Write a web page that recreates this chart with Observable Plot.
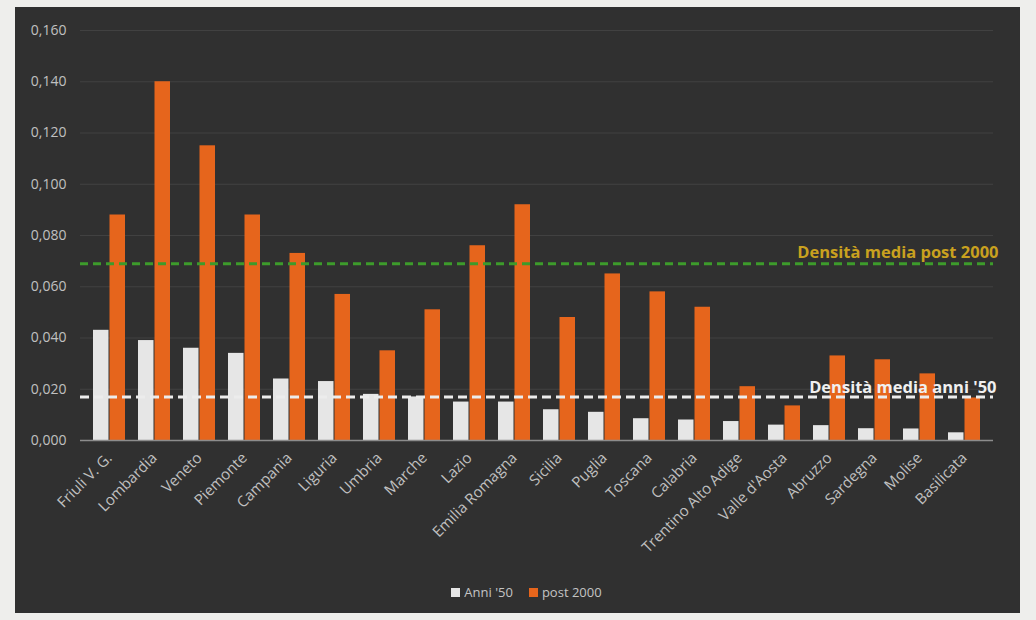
<!DOCTYPE html>
<html>
<head>
<meta charset="utf-8">
<script src="https://cdn.jsdelivr.net/npm/d3@7"></script>
<script src="https://cdn.jsdelivr.net/npm/@observablehq/plot@0.6"></script>
<style>
  html, body { margin: 0; padding: 0; background: #eeeeec; }
  #panel {
    position: absolute; left: 15px; top: 7px; width: 1005px; height: 606px;
    background: #303030; font-family: "Open Sans", sans-serif;
  }
  #legend {
    display: flex; justify-content: center; gap: 16px; margin-top: 16px;
    color: #c4c4c4; font-size: 13px; padding-left: 18px;
  }
  #legend span.sw { display: inline-block; width: 9px; height: 9px; margin-right: 4px; vertical-align: 0px; }
</style>
</head>
<body>
<div id="panel">
  <div id="chart"></div>
  <div id="legend"></div>
</div>
<script>
const regions = ["Friuli V. G.", "Lombardia", "Veneto", "Piemonte", "Campania", "Liguria", "Umbria", "Marche", "Lazio", "Emilia Romagna", "Sicilia", "Puglia", "Toscana", "Calabria", "Trentino Alto Adige", "Valle d'Aosta", "Abruzzo", "Sardegna", "Molise", "Basilicata"];
const anni50 = [0.043, 0.039, 0.036, 0.034, 0.024, 0.023, 0.018, 0.017, 0.015, 0.015, 0.012, 0.011, 0.0085, 0.008, 0.0074, 0.006, 0.0058, 0.0046, 0.0045, 0.003];
const post2000 = [0.088, 0.140, 0.115, 0.088, 0.073, 0.057, 0.035, 0.051, 0.076, 0.092, 0.048, 0.065, 0.058, 0.052, 0.021, 0.0135, 0.033, 0.0315, 0.026, 0.0166];
const seriesNames = ["Anni '50", "post 2000"];
const seriesColors = ["#e6e6e6", "#e6651c"];
const mediaAnni50 = 0.017;
const mediaPost2000 = 0.069;
const labelAnni50 = "Densità media anni '50";
const labelPost2000 = "Densità media post 2000";
const yTicks = [0, 0.02, 0.04, 0.06, 0.08, 0.10, 0.12, 0.14, 0.16];

const data = regions.map((r, i) => ({region: r, anni50: anni50[i], post2000: post2000[i]}));

const chart = Plot.plot({
  width: 1005,
  height: 560,
  marginLeft: 65,
  marginRight: 27,
  marginTop: 23,
  marginBottom: 127,
  style: {background: "transparent", color: "#c0c0c0", fontFamily: "'Open Sans', sans-serif", fontSize: "14px"},
  x: {domain: regions, paddingInner: 0.28, paddingOuter: 0.1, label: null, tickRotate: -45, tickSize: 0, tickPadding: 15},
  y: {domain: [0, 0.16], ticks: yTicks, label: null, tickSize: 0, tickPadding: 14,
      tickFormat: d => d.toFixed(3).replace(".", ",")},
  marks: [
    Plot.gridY(yTicks, {stroke: "#414141", strokeOpacity: 1}),
    Plot.barY(data, {x: "region", y: "anni50", fill: seriesColors[0], insetRight: 16.5}),
    Plot.barY(data, {x: "region", y: "post2000", fill: seriesColors[1], insetLeft: 16.5}),
    Plot.ruleY([0], {stroke: "#8c8c8c", strokeWidth: 1.5}),
    Plot.ruleY([mediaPost2000], {stroke: "#3d9b2b", strokeWidth: 3, strokeDasharray: "8,5"}),
    Plot.ruleY([mediaAnni50], {stroke: "#ececec", strokeWidth: 3, strokeDasharray: "9,5"}),
    Plot.text([labelPost2000], {text: d => d, y: mediaPost2000, frameAnchor: "right", textAnchor: "end", dx: 5, dy: -11,
      fill: "#c9a11f", fontWeight: "bold", fontSize: 16.5}),
    Plot.text([labelAnni50], {text: d => d, y: mediaAnni50, frameAnchor: "right", textAnchor: "end", dx: 3, dy: -9,
      fill: "#f0f0f0", fontWeight: "bold", fontSize: 16.5})
  ]
});
chart.querySelectorAll("g[aria-label='x-axis tick label'] text").forEach(t => t.style.fontSize = "15px");
document.getElementById("chart").appendChild(chart);

const legend = document.getElementById("legend");
seriesNames.forEach((name, i) => {
  const item = document.createElement("div");
  const sw = document.createElement("span");
  sw.className = "sw";
  sw.style.background = seriesColors[i];
  item.appendChild(sw);
  item.appendChild(document.createTextNode(name));
  legend.appendChild(item);
});
</script>
</body>
</html>
